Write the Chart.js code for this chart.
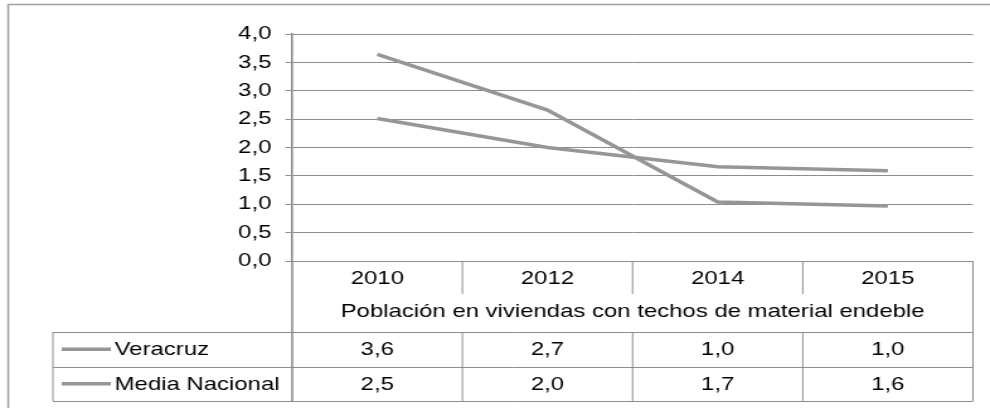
<!DOCTYPE html>
<html>
<head>
<meta charset="utf-8">
<script src="https://cdn.jsdelivr.net/npm/chart.js@4"></script>
<style>
  html, body { margin: 0; padding: 0; background: #fff; overflow: hidden; }
  /* the reference is stretched sideways, so the canvas is too */
  #chart { transform: scaleX(1.2595); transform-origin: 0 0; }
</style>
</head>
<body>
<canvas id="chart" width="786" height="408"></canvas>
<script>
// data
const years = ['2010', '2012', '2014', '2015'];
const veracruz = [3.64, 2.66, 1.04, 0.97];
const mediaNacional = [2.51, 2.00, 1.66, 1.59];
const seriesNames = ['Veracruz', 'Media Nacional'];
const axisTitle = 'Población en viviendas con techos de material endeble';

const FONT = '"Liberation Sans", Arial, sans-serif';
const LINE = '#969696';
const GRID = '#8c8c8c';

const fmt = v => v.toFixed(1).replace('.', ',');

// draws the category row, axis title, data table and outer frame
const dataTable = {
    id: 'dataTable',
    afterDraw(chart) {
        const ctx = chart.ctx;
        const xs = chart.scales.x;
        const area = chart.chartArea;
        const half = (xs.getPixelForValue(1) - xs.getPixelForValue(0)) / 2;
        const edges = [area.left];
        years.forEach((y, i) => edges.push(xs.getPixelForValue(i) + half));

        const catBottom = area.bottom + 33;
        const titleY = area.bottom + 51;
        const tableTop = area.bottom + 71;
        const rowH = 34.5;
        const tableLeft = 42;
        const tableBottom = tableTop + 2 * rowH;

        ctx.save();
        ctx.strokeStyle = GRID;
        ctx.lineWidth = 1;

        const line = (x1, y1, x2, y2) => {
            ctx.beginPath();
            ctx.moveTo(x1, y1);
            ctx.lineTo(x2, y2);
            ctx.stroke();
        };

        // category row dividers
        for (let i = 1; i < edges.length - 1; i++) {
            line(edges[i], area.bottom, edges[i], catBottom);
        }
        // right edge runs down the whole lower block
        line(area.right, area.bottom, area.right, tableBottom);

        // table horizontal lines
        for (let r = 0; r <= 2; r++) {
            const y = Math.round(tableTop + r * rowH) + 0.5;
            line(tableLeft, y, area.right, y);
        }
        // table vertical lines
        line(tableLeft, tableTop, tableLeft, tableBottom);
        for (let i = 1; i < edges.length - 1; i++) {
            line(edges[i], tableTop, edges[i], tableBottom);
        }
        // y axis line carried down
        ctx.lineWidth = 1.6;
        line(area.left, area.bottom, area.left, tableBottom);

        // text
        ctx.fillStyle = '#000';
        ctx.font = '19px ' + FONT;
        ctx.textBaseline = 'middle';
        ctx.textAlign = 'center';
        years.forEach((y, i) => ctx.fillText(y, xs.getPixelForValue(i), area.bottom + 18));
        ctx.fillText(axisTitle, (area.left + area.right) / 2, titleY);

        const rows = [veracruz, mediaNacional];
        rows.forEach((vals, r) => {
            const cy = tableTop + r * rowH + rowH / 2 + 1;
            ctx.textAlign = 'center';
            vals.forEach((v, i) => ctx.fillText(fmt(v), xs.getPixelForValue(i), cy));
            // legend key
            ctx.strokeStyle = LINE;
            ctx.lineWidth = 3.5;
            line(49, cy - 1, 88, cy - 1);
            ctx.textAlign = 'left';
            ctx.fillText(seriesNames[r], 91, cy);
        });

        // outer frame
        ctx.strokeStyle = '#a0a0a0';
        ctx.lineWidth = 1.5;
        ctx.strokeRect(6.5, 4.5, 900, 600);
        ctx.restore();
    }
};

new Chart(document.getElementById('chart'), {
    type: 'line',
    data: {
        labels: years,
        datasets: [
            {
                label: seriesNames[0],
                data: veracruz,
                borderColor: LINE,
                borderWidth: 3.5,
                pointRadius: 0,
                tension: 0
            },
            {
                label: seriesNames[1],
                data: mediaNacional,
                borderColor: LINE,
                borderWidth: 3.5,
                pointRadius: 0,
                tension: 0
            }
        ]
    },
    options: {
        responsive: false,
        animation: false,
        layout: { padding: { left: 0, top: 34, right: 13.5, bottom: 0 } },
        plugins: {
            legend: { display: false },
            tooltip: { enabled: false }
        },
        scales: {
            x: {
                offset: true,
                grid: { display: false },
                border: { display: false },
                ticks: { display: false },
                afterFit: s => { s.height = 147; }
            },
            y: {
                min: 0,
                max: 4,
                ticks: {
                    stepSize: 0.5,
                    color: '#000',
                    padding: 11,
                    font: { family: FONT, size: 19 },
                    callback: v => fmt(v)
                },
                grid: { color: GRID, tickLength: 5.5 },
                border: { color: GRID, width: 1.6 },
                afterFit: s => { s.width = 232; }
            }
        }
    },
    plugins: [dataTable]
});
</script>
</body>
</html>
